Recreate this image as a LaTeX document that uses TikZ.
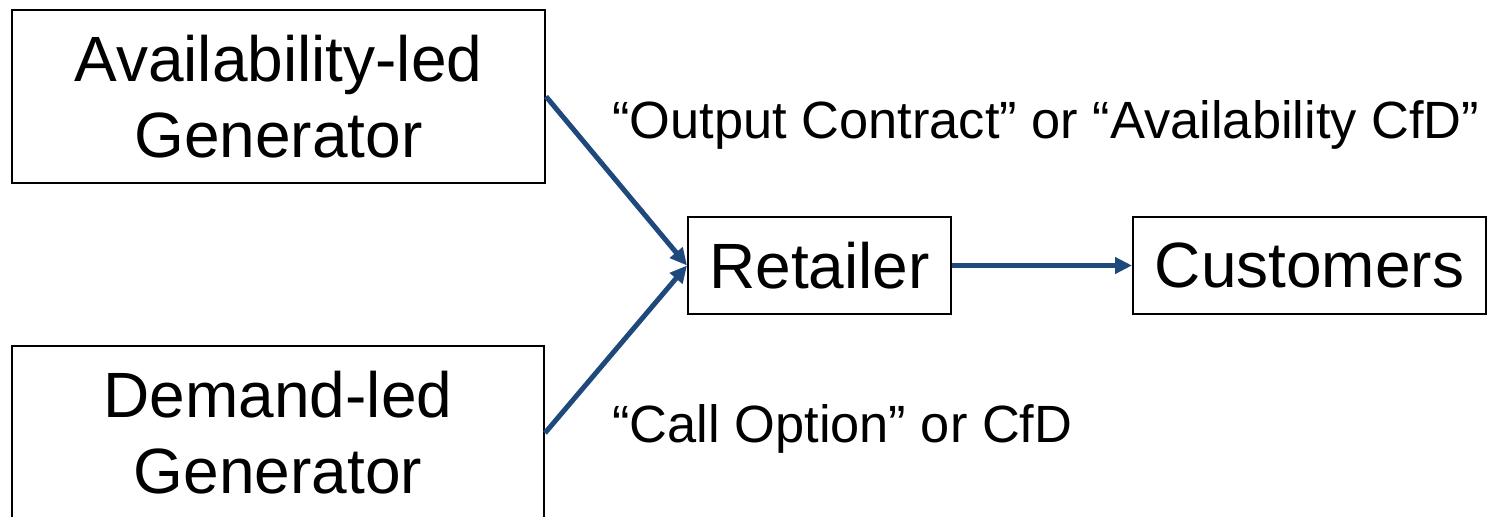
\documentclass[tikz,border=0pt]{standalone}
\usepackage{fontspec}
\setmainfont{Liberation Sans}
\usetikzlibrary{arrows.meta}
\definecolor{arrowblue}{RGB}{31,73,125}
\begin{document}
\begin{tikzpicture}[x=0.5pt,y=-0.5pt,
  box/.style={draw=black,line width=1pt,inner sep=0pt,align=center,
    font=\fontsize{32}{38}\selectfont},
  lbl/.style={inner sep=0pt,anchor=base west,font=\fontsize{26.2}{31}\selectfont},
  conn/.style={draw=arrowblue,line width=2.5pt,-{Triangle[length=8.5pt,width=8pt]}}]
\useasboundingbox (0,0) rectangle (1502,517);
\node[box,minimum width=266.5pt,minimum height=86.5pt] (avail) at (278.5,96.5) {Availability-led\\Generator};
\node[box,minimum width=266pt,minimum height=86.5pt] (demand) at (278,433) {Demand-led\\Generator};
\node[box,minimum width=131.5pt,minimum height=48.5pt] (ret) at (819.5,265.5) {Retailer};
\node[box,minimum width=176.5pt,minimum height=48.5pt] (cust) at (1309.5,265.5) {Customers};
\node[lbl] (l1) at (612,139) {“Output Contract” or “Availability CfD”};
\node[lbl] (l2) at (612,443) {“Call Option” or CfD};
\draw[conn] (avail.east) -- (ret.west);
\draw[conn] (demand.east) -- (ret.west);
\draw[conn] (ret.east) -- (cust.west);
\end{tikzpicture}
\end{document}
